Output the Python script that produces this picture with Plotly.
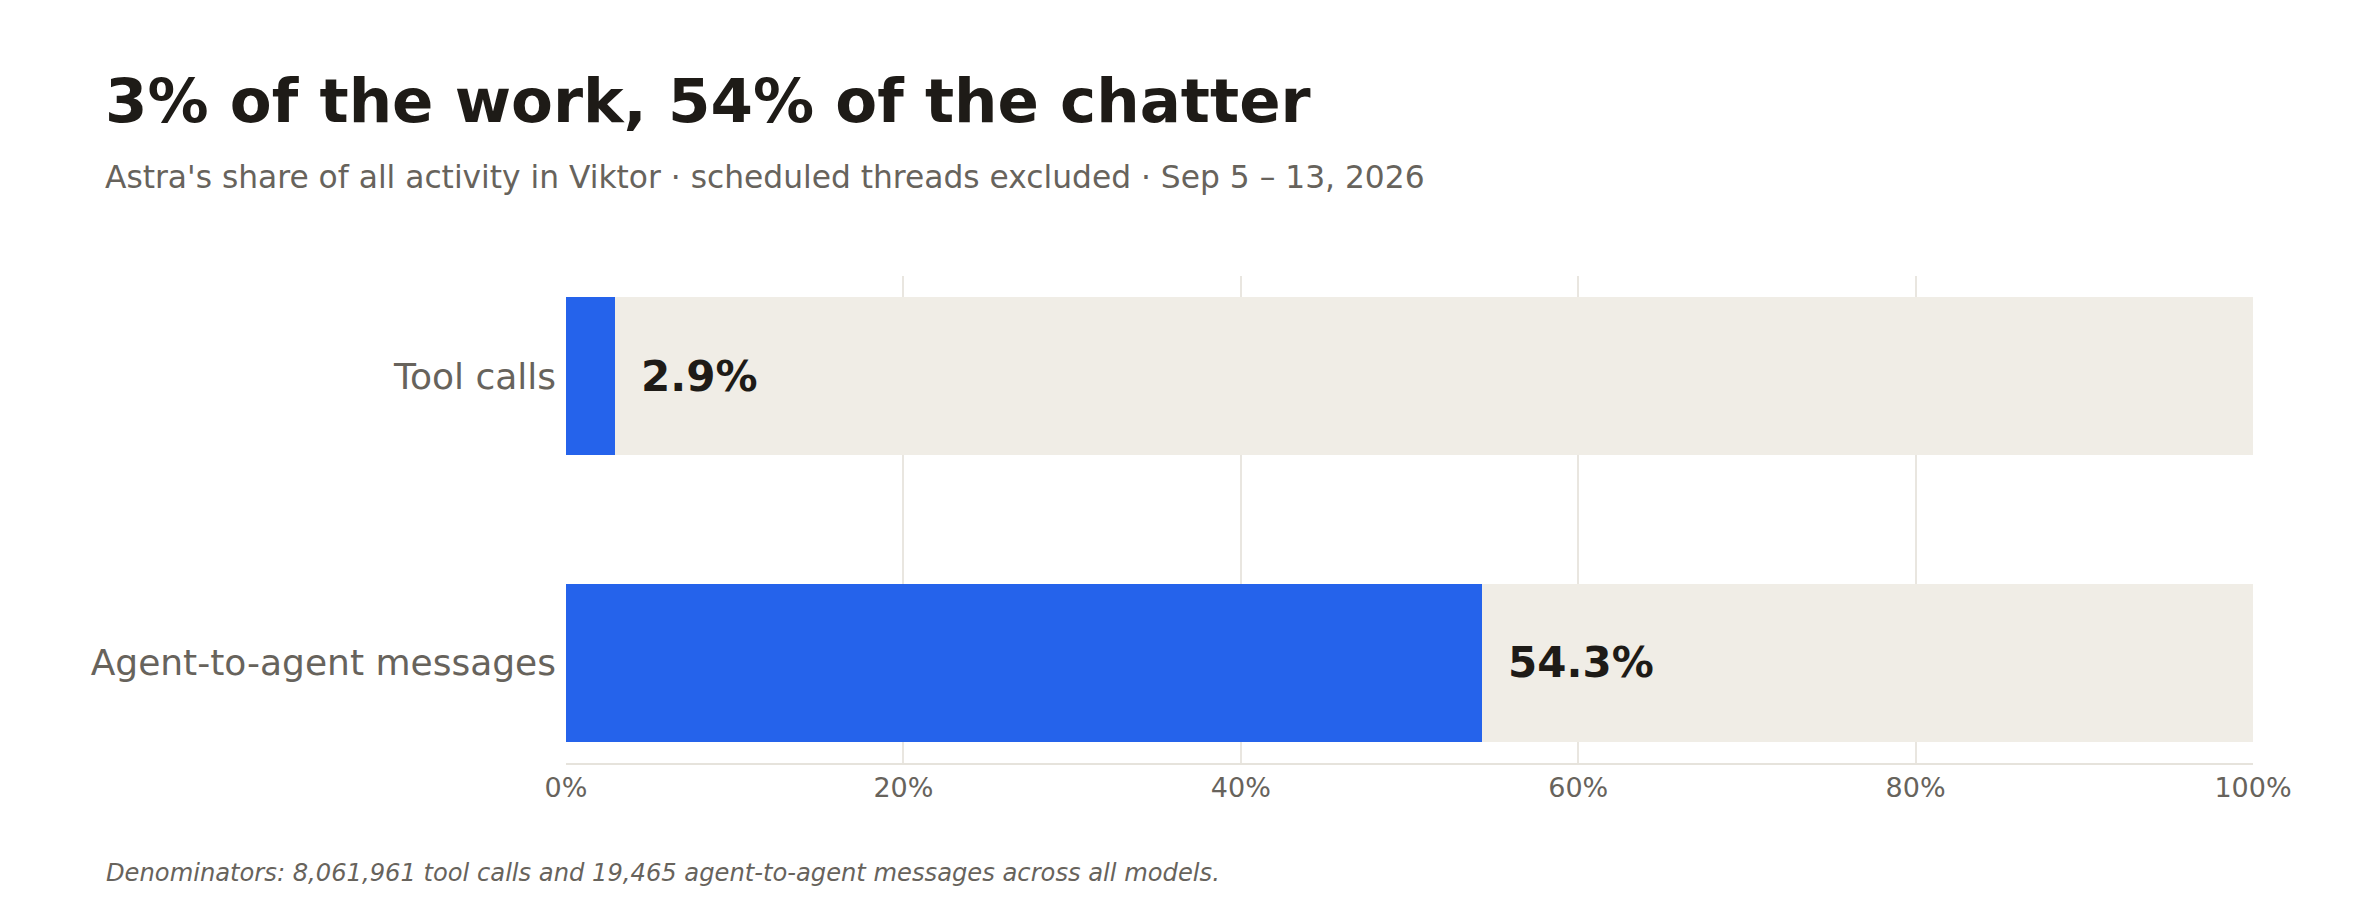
import plotly.graph_objects as go

categories = ["Tool calls", "Agent-to-agent messages"]
share_pct = [2.9, 54.3]
track_pct = [100, 100]
value_labels = ["2.9%", "54.3%"]
x_ticks = [0, 20, 40, 60, 80, 100]
x_tick_labels = ["0%", "20%", "40%", "60%", "80%", "100%"]

title_text = "3% of the work, 54% of the chatter"
subtitle_text = "Astra's share of all activity in Viktor · scheduled threads excluded · Sep 5 – 13, 2026"
footnote_text = "Denominators: 8,061,961 tool calls and 19,465 agent-to-agent messages across all models."

# page body has an 8px margin; figure sized to fit inside the window
OFF = 8
W, H = 2360 - 2 * OFF, 920 - 2 * OFF
FONT = "DejaVu Sans"
DARK = "#1e1b17"
GRAY = "#67635c"
BLUE = "#2563eb"
TRACK = "#f0ede6"
GRID = "#e9e6e0"

# plot area in window pixels
PX0, PX1, PY0, PY1 = 566, 2253, 276, 763
L, R = PX0 - OFF, W - (PX1 - OFF)
T, B = PY0 - OFF, H - (PY1 - OFF)


def px(xw):
    return (xw - OFF - L) / (W - L - R)


def py(yw):
    return (H - (yw - OFF) - B) / (H - T - B)


fig = go.Figure()
fig.add_trace(go.Bar(
    y=categories, x=track_pct, orientation="h",
    marker=dict(color=TRACK, line=dict(width=0)),
    width=0.55, hoverinfo="skip", showlegend=False,
))
fig.add_trace(go.Bar(
    y=categories, x=share_pct, orientation="h",
    marker=dict(color=BLUE, line=dict(width=0)),
    width=0.55, hoverinfo="skip", showlegend=False,
))

for cat, v, lab in zip(categories, share_pct, value_labels):
    fig.add_annotation(
        x=v, y=cat, xref="x", yref="y", text="<b>" + lab + "</b>",
        showarrow=False, xanchor="left", yanchor="middle", xshift=24,
        font=dict(family=FONT, size=42, color=DARK),
    )

fig.add_annotation(
    x=px(103), y=py(101), xref="paper", yref="paper",
    text="<b>" + title_text + "</b>", showarrow=False,
    xanchor="left", yanchor="middle",
    font=dict(family=FONT, size=61, color=DARK),
)
fig.add_annotation(
    x=px(103), y=py(177), xref="paper", yref="paper",
    text=subtitle_text, showarrow=False,
    xanchor="left", yanchor="middle",
    font=dict(family=FONT, size=31.3, color=GRAY),
)
fig.add_annotation(
    x=px(104), y=py(873), xref="paper", yref="paper",
    text="<i>" + footnote_text + "</i>", showarrow=False,
    xanchor="left", yanchor="middle",
    font=dict(family=FONT, size=24.2, color=GRAY),
)

fig.update_layout(
    width=W, height=H,
    margin=dict(l=L, r=R, t=T, b=B, pad=0),
    barmode="overlay",
    bargap=0,
    paper_bgcolor="white", plot_bgcolor="white",
    font=dict(family=FONT, color=GRAY),
    xaxis=dict(
        range=[0, 100], tickvals=x_ticks, ticktext=x_tick_labels,
        showgrid=True, gridcolor=GRID, gridwidth=1.5,
        zeroline=False, showline=True, linecolor="#e6e3dc", linewidth=2,
        ticks="", tickfont=dict(family=FONT, size=27, color=GRAY),
        fixedrange=True,
    ),
    yaxis=dict(
        categoryorder="array", categoryarray=categories,
        range=[1.35, -0.35], showgrid=False, zeroline=False, showline=False,
        ticks="", tickfont=dict(family=FONT, size=36, color=GRAY),
        ticklabelstandoff=9, fixedrange=True,
    ),
)

fig.write_html("out.html", include_plotlyjs=True, config={"displayModeBar": False})
